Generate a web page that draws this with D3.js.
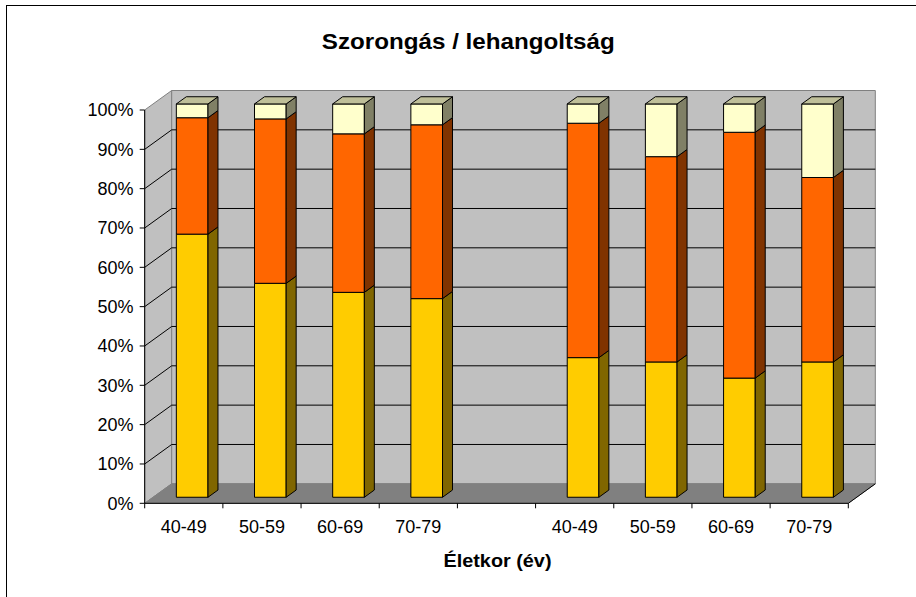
<!DOCTYPE html>
<html>
<head>
<meta charset="utf-8">
<script src="https://cdn.jsdelivr.net/npm/d3@7"></script>
<style>
  html, body { margin: 0; padding: 0; background: #fff; }
  svg { display: block; }
  text { font-family: "Liberation Sans", Arial, sans-serif; fill: #000; }
</style>
</head>
<body>
<svg id="chart" width="916" height="597"></svg>
<script>
// Age groups (two panels separated by an empty slot)
const categories = ["40-49", "50-59", "60-69", "70-79", "", "40-49", "50-59", "60-69", "70-79"];

// Share of respondents per level (percent)
const lowShare  = [66.9, 54.4, 52.1, 50.5, null, 35.5, 34.4, 30.3, 34.4];
const midShare  = [29.6, 41.8, 40.3, 44.2, null, 59.6, 52.2, 62.5, 46.9];
const highShare = [ 3.5,  3.8,  7.6,  5.3, null,  4.9, 13.4,  7.2, 18.7];

const seriesKeys = ["low", "mid", "high"];
const seriesColors = ["#FFCC00", "#FF6600", "#FFFFCC"];

const yTicks = [0, 0.1, 0.2, 0.3, 0.4, 0.5, 0.6, 0.7, 0.8, 0.9, 1];

const titleText = "Szorongás / lehangoltság";
const xTitleText = "Életkor (év)";

// ---- layout ----
const W = 916, H = 597;
const left = 144.7, right = 848.3;
const floorY = 503.3, topY = 110;
const depthX = 27, depthY = 19.5;      // oblique projection of the wall depth
const barZ0 = 0.31, barZ1 = 0.68;      // bar depth inside the box
const barFrac = 0.405;                 // bar width relative to slot

const svg = d3.select("#chart");

const rows = categories.map((c, i) => ({
  idx: i, cat: c,
  low: lowShare[i] || 0, mid: midShare[i] || 0, high: highShare[i] || 0,
  empty: lowShare[i] == null
}));

const x = d3.scaleBand().domain(d3.range(categories.length)).range([left, right]).padding(0);
const y = d3.scaleLinear().domain([0, 1]).range([floorY, topY]);

const P = (px, v, z) => [px + z * depthX, y(v) - z * depthY];
const poly = pts => "M" + pts.map(p => p[0].toFixed(2) + "," + p[1].toFixed(2)).join("L") + "Z";

// outer chart frame
svg.append("rect")
  .attr("x", 6.5).attr("y", 5.5).attr("width", 1000).attr("height", 1000)
  .attr("fill", "none").attr("stroke", "#000").attr("stroke-width", 1);

// ---- walls and floor ----
const walls = svg.append("g");
walls.append("path") // left side wall
  .attr("d", poly([P(left, 1, 0), P(left, 1, 1), P(left, 0, 1), P(left, 0, 0)]))
  .attr("fill", "#C0C0C0").attr("stroke", "#808080");
walls.append("path") // back wall
  .attr("d", poly([P(left, 1, 1), P(right, 1, 1), P(right, 0, 1), P(left, 0, 1)]))
  .attr("fill", "#C0C0C0").attr("stroke", "#808080");
walls.append("path") // floor
  .attr("d", poly([P(left, 0, 0), P(right, 0, 0), P(right, 0, 1), P(left, 0, 1)]))
  .attr("fill", "#808080").attr("stroke", "#808080");

// gridlines on the back wall and the side wall
const grid = svg.append("g").attr("stroke", "#000").attr("stroke-width", 1).attr("fill", "none");
yTicks.filter(v => v > 0 && v < 1).forEach(v => {
  const a = P(left, v, 0), b = P(left, v, 1), c = P(right, v, 1);
  grid.append("path").attr("d", `M${a[0]},${a[1]}L${b[0]},${b[1]}L${c[0]},${c[1]}`);
});
// floor right edge
{
  const a = P(right, 0, 0), b = P(right, 0, 1);
  grid.append("line").attr("x1", a[0]).attr("y1", a[1]).attr("x2", b[0]).attr("y2", b[1]);
}

// ---- stacked 3D bars ----
const stack = d3.stack().keys(seriesKeys).offset(d3.stackOffsetExpand);
const stacked = stack(rows.filter(r => !r.empty));

const shade = (col, k) => {
  const c = d3.rgb(col);
  return d3.rgb(c.r * k, c.g * k, c.b * k).formatHex();
};

const bars = svg.append("g").attr("stroke", "#000").attr("stroke-width", 1).attr("stroke-linejoin", "miter");
const bw = x.bandwidth() * barFrac;
const nonEmpty = rows.filter(r => !r.empty);

nonEmpty.forEach((r, j) => {
  const slotX = x(r.idx);
  const x0 = slotX + (x.bandwidth() - bw) / 2;
  const x1 = x0 + bw;
  const g = bars.append("g");
  stacked.forEach((s, si) => {
    const [v0, v1] = s[j];
    const col = seriesColors[si];
    // front face
    g.append("path")
      .attr("d", poly([P(x0, v1, barZ0), P(x1, v1, barZ0), P(x1, v0, barZ0), P(x0, v0, barZ0)]))
      .attr("fill", col);
    // right side face
    g.append("path")
      .attr("d", poly([P(x1, v1, barZ0), P(x1, v1, barZ1), P(x1, v0, barZ1), P(x1, v0, barZ0)]))
      .attr("fill", shade(col, 0.5));
    // top face on the uppermost segment
    if (si === stacked.length - 1) {
      g.append("path")
        .attr("d", poly([P(x0, v1, barZ0), P(x0, v1, barZ1), P(x1, v1, barZ1), P(x1, v1, barZ0)]))
        .attr("fill", shade(col, 0.75));
    }
  });
});

// ---- axes ----
const axes = svg.append("g").attr("stroke", "#000").attr("stroke-width", 1);
axes.append("line").attr("x1", left).attr("y1", y(0)).attr("x2", left).attr("y2", y(1));
axes.append("line").attr("x1", left).attr("y1", y(0)).attr("x2", right).attr("y2", y(0));
yTicks.forEach(v => {
  axes.append("line").attr("x1", left - 5).attr("x2", left).attr("y1", y(v)).attr("y2", y(v));
});
d3.range(categories.length + 1).forEach(i => {
  const tx = left + i * x.step();
  axes.append("line").attr("x1", tx).attr("x2", tx).attr("y1", y(0)).attr("y2", y(0) + 5);
});

const fmt = d3.format(".0%");
svg.append("g").selectAll("text").data(yTicks).join("text")
  .attr("x", 133.5).attr("y", v => y(v) + 6.3)
  .attr("text-anchor", "end").attr("font-size", 18)
  .text(v => fmt(v));

svg.append("g").selectAll("text").data(rows).join("text")
  .attr("x", r => x(r.idx) + x.bandwidth() / 2).attr("y", 532.5)
  .attr("text-anchor", "middle").attr("font-size", 18)
  .text(r => r.cat);

// ---- titles ----
svg.append("text")
  .attr("x", 468.3).attr("y", 48.5).attr("text-anchor", "middle")
  .attr("font-size", 21.5).attr("font-weight", "bold")
  .attr("textLength", 293).attr("lengthAdjust", "spacingAndGlyphs")
  .text(titleText);

svg.append("text")
  .attr("x", 497.5).attr("y", 566.5).attr("text-anchor", "middle")
  .attr("font-size", 18).attr("font-weight", "bold")
  .attr("textLength", 108).attr("lengthAdjust", "spacingAndGlyphs")
  .text(xTitleText);
</script>
</body>
</html>
